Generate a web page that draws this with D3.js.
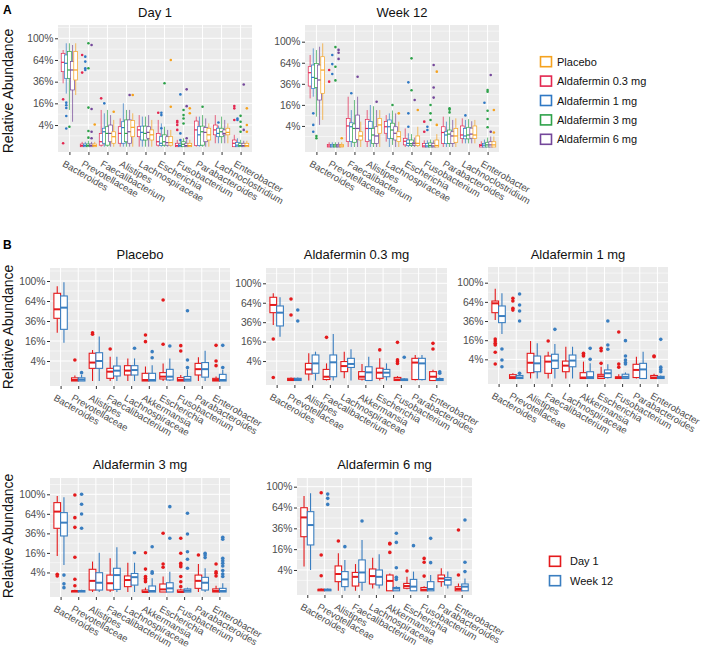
<!DOCTYPE html>
<html><head><meta charset="utf-8">
<script src="https://cdn.jsdelivr.net/npm/d3@7"></script>
<style>body{margin:0;background:#fff}svg{display:block}text{font-family:"Liberation Sans",Arial,sans-serif}</style>
</head><body><svg id="c" width="709" height="652"></svg>
<script>
// ---------------- DATA (relative abundance, %) ----------------
// each entry: [lower whisker, Q1, median, Q3, upper whisker, [outliers]]
const catsA = ["Bacteroides","Prevotellaceae","Faecalibacterium","Alistipes","Lachnospiraceae","Escherichia","Fusobacterium","Parabacteroides","Lachnoclostridium","Enterobacter"];
const catsB = ["Bacteroides","Prevotellaceae","Alistipes","Faecalibacterium","Lachnospiraceae","Akkermansia","Escherichia","Fusobacterium","Parabacteroides","Enterobacter"];
const yTicks = [4,16,36,64,100];
const groupsA = ["Aldafermin 0.3 mg","Aldafermin 1 mg","Aldafermin 3 mg","Aldafermin 6 mg","Placebo"];
const legendA = ["Placebo","Aldafermin 0.3 mg","Aldafermin 1 mg","Aldafermin 3 mg","Aldafermin 6 mg"];
const legendB = ["Day 1","Week 12"];

// Panel A: Day 1
const day1_03 = [[34.2,47.9,60.6,74.2,79.6,[19.1,0.1]],[0,0,0.01,0.06,0.2,[71.6,46.7]],[0,0.02,0.21,1.5,11.5,[19.9]],[0,0.1,1.5,3.4,6.8,[]],[0,0.85,2.4,3.4,8.5,[]],[0,0.02,0.21,1.5,6.1,[9.8]],[0,0,0.01,0.1,0.4,[5.6,5.0,4.0,2.4]],[0,0.01,2.4,5.6,7.7,[]],[0.1,1.2,2.4,4,8.5,[]],[0,0,0.1,0.38,1.2,[14.1,12.5,6.1]]];
const day1_1 = [[24,39.8,59.2,71.6,91,[16.5,14.6,12.7,8,2.8]],[0,0,0.01,0.06,0.2,[69,61.6,52.3,50.1]],[0,0.1,1.9,2.9,9.5,[16]],[0,0.1,3.1,5.3,16,[]],[0,0.38,1.75,3.6,7.7,[]],[0,0.01,0.1,0.85,4.6,[9.8,8.5,2.9]],[0,0,0.01,0.06,0.3,[23.3,1.5,0.38]],[0,0.01,1.2,3.4,7.7,[]],[0.1,0.85,1.5,2.9,3.8,[5]],[0,0,0.02,0.14,0.6,[6.8,6.1]]];
const day1_3 = [[11.5,39.8,50.1,76.9,91,[3.4]],[0,0,0.01,0.06,0.3,[91,52.3,13,2.1,0.7]],[0,0.02,1.5,3.4,11.5,[]],[0,0.21,1.5,6.1,11.5,[]],[0,0.38,1.5,3.6,7.7,[]],[0,0.02,0.21,1.2,3.4,[34.2]],[0,0,0.05,0.21,0.6,[11.5,8.5,6.8,4.6]],[0,0.02,1.9,3.6,8.5,[13.6]],[0.1,0.85,1.9,2.9,7.7,[]],[0,0,0.01,0.1,0.4,[8.1,5.3,3.4,1.9]]];
const day1_6 = [[5.3,27.4,50.1,61.6,88,[]],[0,0,0.01,0.06,0.2,[88,12.1,1.9,0.6]],[0,0.21,1.5,4,8.5,[]],[0,0.1,1.9,6.1,11.5,[22.7]],[0,0.6,1.75,3.4,8.5,[]],[0,0.02,0.14,0.85,2.4,[]],[0,0,0.01,0.1,0.4,[28,14,0.6]],[0,0.21,1.75,3.1,6.8,[]],[0.1,1.2,1.5,2.4,6.1,[]],[0,0,0.01,0.1,0.3,[33,2.4]]];
const day1_pl = [[22.7,37.9,50.1,76.9,91,[]],[0,0,0.01,0.06,0.2,[4.2]],[0,0.1,0.85,1.9,6.1,[10.4]],[0,0.85,3.2,5.8,9.5,[22.7]],[0,0.38,1.2,2.4,6.1,[]],[0,0.02,0.14,0.85,2.4,[64,13.6]],[0,0,0.01,0.1,0.4,[12.5,9.5]],[0,0.38,1.2,2.9,4.6,[]],[0.1,1.2,1.75,2.9,4.6,[]],[0,0,0.01,0.1,0.3,[12.5,4.0,1.9]]];

// Panel A: Week 12
const wk12_03 = [[21.3,33.5,49.8,58.2,76.3,[]],[0,0,0.01,0.06,0.2,[53.4,38.5]],[0,0.26,4,7.4,22.8,[]],[0,0.26,3.1,6.9,12.3,[]],[0.26,1.7,3.7,5.8,9.2,[]],[0,0.04,0.3,0.68,3.1,[]],[0,0,0.01,0.12,0.4,[5.8,2.1]],[0,0.12,1.9,3.7,8.3,[]],[0.12,0.68,1.3,4,7.4,[]],[0,0,0.02,0.06,0.3,[]]];
const wk12_1 = [[22.8,31,43.7,60.6,87.7,[10.2,4.4,2.1]],[0,0,0.01,0.06,0.2,[76.3,62,48]],[0,0.26,3.7,5.3,12.3,[26]],[0,0.44,3.1,5.8,15.9,[]],[0,0.68,3.7,6.6,10.2,[]],[0,0.02,0.12,0.44,1.7,[37.7,10.2,3.7]],[0,0,0.01,0.12,0.4,[3.7,2.6]],[0,0.1,1.3,2.1,5.8,[]],[0.12,0.6,1.1,3.1,6.6,[9]],[0,0,0.03,0.12,0.5,[17.7]]];
const wk12_3 = [[8.3,32,42.5,63.1,84.8,[1.1,0.68]],[0,0,0.01,0.06,0.2,[90,58,40]],[0,0.2,3.1,4.8,19.9,[]],[0,0.12,1.3,3.1,15,[]],[0.04,0.68,2.6,5.1,12,[15.9]],[0,0.02,0.1,0.44,1.5,[70.9,29]],[0,0,0.02,0.15,0.5,[15.9,10.2,6.6]],[0,0.12,1.5,2.6,8.3,[13.5,12.6,10.8]],[0.12,0.6,1.3,3.5,7,[]],[0,0,0.04,0.2,0.8,[29.3,27.6,11.9,7.1,3.5]]];
const wk12_6 = [[4.4,19.9,40.5,60.6,90.7,[]],[0,0,0.01,0.06,0.2,[85,80,70]],[0,0.5,3.1,9.2,22.8,[44.6]],[0,0.12,1.1,3.7,12.3,[18.5]],[0,0.44,1.7,3.7,10.2,[]],[0,0.02,0.1,0.2,0.8,[19.9]],[0,0,0.01,0.12,0.4,[60.6,32,22]],[0,0.12,1.1,2.1,6.6,[]],[0.12,0.7,1.5,3.2,6,[]],[0,0,0.04,0.25,1,[46.7,2.1]]];
const wk12_pl = [[6.6,26,53.4,73.5,96.9,[]],[0,0,0.01,0.06,0.2,[0.7]],[0,0.44,1.1,2.1,5.8,[]],[0,1.7,4.4,7.4,12.3,[]],[0,0.26,0.96,2.1,5.8,[10.2]],[0,0.02,0.12,1.1,3.7,[12.3]],[0,0,0.02,0.44,1.5,[51.2,4.4]],[0,0.2,1.1,3.1,7.4,[]],[0.12,0.68,1.3,4,6.6,[]],[0,0,0.04,0.25,1,[12.3,1.9]]];

// Panel B: by treatment, Day 1 vs Week 12
const pl_d1 = [[23.4,39.3,51.4,76.9,90,[]],[0,0,0.01,0.1,0.3,[4.4]],[0,1.6,3.4,7.7,9.6,[23.3,21.8]],[0,0.07,0.87,1.6,5.9,[10.2]],[0,0.36,1.07,2.35,5.1,[]],[0,0,0.01,0.59,2.1,[21.2,15.5]],[0,0.04,0.19,0.7,3.1,[65.6,13.5]],[0,0,0.01,0.11,0.36,[12.5,9]],[0,0.36,1.4,3.1,5.6,[]],[0,0,0.01,0.07,0.2,[12.7,4,2.35]]];
const pl_w12 = [[14.7,26.7,53.8,72.3,97.4,[]],[0,0,0.02,0.1,0.4,[0.7]],[0,1.6,4,8,19.7,[]],[0,0.25,1.07,2.25,5.9,[]],[0,0.36,1.2,2.35,5.1,[10.7]],[0,0,0.01,0.59,2.5,[8.6,5.4]],[0,0.01,0.19,1.36,5.1,[12.3]],[0,0,0.02,0.2,1.3,[49.4,4.4,1.8]],[0,0.15,1.4,3.4,9.2,[]],[0,0,0.01,0.44,1.2,[12.7,1.8]]];
const d03_d1 = [[32.6,48.7,60.4,73.3,80.5,[18.2,0.1]],[0,0,0.01,0.05,0.1,[70.4,45.4]],[0,0.45,1.3,3.1,7.8,[]],[0,0.01,0.15,1.3,3.1,[19.7]],[0.05,0.83,2.2,3.8,8.8,[]],[0,0.02,0.15,0.83,2.9,[]],[0,0.05,0.65,1.6,5.2,[9.9]],[0,0,0.01,0.1,0.2,[15.4,4.5,3.8,3.1]],[0,0.01,3.4,5.2,6.9,[]],[0,0,0.15,0.83,1.2,[14.6,10.5]]];
const d03_w12 = [[20.3,31.5,48.7,58.8,73.3,[]],[0,0,0.01,0.05,0.1,[52.7,37.5]],[0,0.55,3.1,6.9,8.8,[]],[0,0.15,3.5,6.9,22.9,[]],[0,1.8,2.9,5.2,10.3,[]],[0,0,0.7,2,6,[]],[0,0.15,0.65,1.3,3.1,[]],[0,0,0.01,0.02,0.05,[5.7]],[0,0.01,3.1,5.2,6.9,[]],[0,0,0.01,0.04,0.1,[0.8,0.55]]];
const d1_d1 = [[37.3,47.2,61.6,65.4,87.6,[17,15.3,13.5,12.3,7.5,2.3]],[0,0,0.02,0.16,0.3,[70,65.4,53.7,51]],[0,0.37,2.7,6.9,15.3,[]],[0,0.29,3.1,5.5,7.8,[15.3]],[0,0.5,1.8,3.3,11,[]],[0,0,0.01,0.37,3.1,[6.9,6,5.5]],[0,0,0.05,0.19,1.5,[9.9,8.4,2.5]],[0,0,0.01,0.03,0.2,[23.5,2.3,1.4]],[0,0.01,0.8,2.2,5.2,[]],[0,0,0.01,0.1,0.25,[5.5,5.2]]];
const d1_w12 = [[21.6,34,42.5,57.3,79,[9.5,3.7,1.5]],[0,0,0.01,0.1,0.2,[77.8,58.8,49.6,36,0.29]],[0,0.5,2.5,5.5,13.5,[]],[0,1.1,3.5,6.4,13,[26.3]],[0,1.5,3.5,6,11,[]],[0,0,0.02,0.5,2.5,[9.9,4]],[0,0.01,0.3,0.8,2.2,[36,12.2,9.3]],[0,0,0.03,0.2,0.4,[15.6,5.5,3.7,2.8,2.3]],[0,0,0.9,2.5,7.8,[]],[0,0,0.01,0.05,0.1,[16.7,1.4,0.9,0.5]]];
const d3_d1 = [[13.6,42.5,67.7,83.7,96.6,[3.3,2.7]],[0,0,0.01,0.01,0.05,[98.6,57.9,43.8,12.6,1.7,0.4]],[0,0.04,1.3,5.4,9.7,[]],[0,0.04,0.8,3,11.9,[]],[0,0.3,1.5,2.7,9,[]],[0,0,0,0.04,0.2,[16.2,5.5,2.5,2,1.5,1.1]],[0,0,0.07,0.67,2.5,[36.1,8.2,6.4]],[0,0,0,0.04,0.1,[30.2,15.7,8.6,7.6,6.7,2.5,1.1,0.3]],[0,0.14,1.3,3,8.2,[14.3]],[0,0,0.01,0.1,0.4,[8.2,4.3,3.7,2.7]]];
const d3_w12 = [[7.6,32.9,50.4,66,93.9,[3,0.7,0.2]],[0,0,0.01,0.02,0.05,[100,80.6,63.8,42.5]],[0,0.04,0.9,3.9,16.2,[]],[0,0.07,3,5.9,20.9,[]],[0,0.5,2.3,3.6,9,[16.2]],[0,0,0.01,0.38,2,[21.5,4.3,3.7]],[0,0,0.14,0.9,4.3,[76.3,30.2]],[0,0,0.02,0.1,0.2,[64.9,35.3,17,11.2,5.9]],[0,0.04,0.9,2.25,5.9,[15.7,14.3,12.4]],[0,0,0.01,0.14,0.8,[31.3,29.1,11.9,10.3,8.6,7.1,4.8,3.4,2.5]]];
const d6_d1 = [[5.4,27,49.7,63.7,82.8,[]],[0,0,0.01,0.02,0.05,[88.8,11.8,2.1]],[0,0.77,2.6,5.7,13,[22.9]],[0,0.21,1.8,3.1,6.6,[]],[0.05,0.43,2,4.4,10.1,[]],[0,0,0.9,2.3,2.8,[20.8,20.2,13.6]],[0.02,0.06,0.21,0.5,1.8,[3.6]],[0,0,0.01,0.1,0.2,[9.7,7.5,2]],[0.15,0.77,1.4,2.3,4.7,[]],[0,0,0.03,0.15,0.5,[34.1,2.3]]];
const d6_w12 = [[4,19.4,39.9,57.8,87.6,[]],[0,0,0.01,0.02,0.05,[86.3,78.9,68.9]],[0,0.16,1.2,3.4,8.8,[18]],[0,0.67,3.1,8.8,23.8,[45]],[0.05,0.31,1.8,4,12.3,[]],[0,0,0.05,0.1,0.2,[30.5,21.6,4.9,1.7,1.2]],[0,0,0.16,1.2,3.4,[18.8]],[0,0,0.03,0.77,2.3,[25.4,7.3]],[0.05,0.31,1.1,1.6,3.4,[]],[0,0,0.16,0.43,1.4,[46.2,7.5,3.4]]];

// ---------------- STYLE / LAYOUT ----------------
const colA = {"Placebo":"#F5A21E","Aldafermin 0.3 mg":"#E3264F","Aldafermin 1 mg":"#2F78C4","Aldafermin 3 mg":"#2EA24A","Aldafermin 6 mg":"#74479A"};
const colB = {"Day 1":"#E41A1C","Week 12":"#3A7EC0"};
const FONT = '"Liberation Sans",Arial,sans-serif';

const panels = [
  {title:"Day 1", cats:catsA, series:[day1_03,day1_1,day1_3,day1_6,day1_pl], colors:groupsA.map(g=>colA[g]), x0:58,x1:252,top:25,bot:152,y0:146.7,y100:38.3,ty:17, kind:"A"},
  {title:"Week 12", cats:catsA, series:[wk12_03,wk12_1,wk12_3,wk12_6,wk12_pl], colors:groupsA.map(g=>colA[g]), x0:305,x1:499,top:25,bot:152,y0:147,y100:41.7,ty:17, kind:"A"},
  {title:"Placebo", cats:catsB, series:[pl_d1,pl_w12], colors:legendB.map(g=>colB[g]), x0:50,x1:230,top:268,bot:386,y0:381,y100:281,ty:259, kind:"B"},
  {title:"Aldafermin 0.3 mg", cats:catsB, series:[d03_d1,d03_w12], colors:legendB.map(g=>colB[g]), x0:266,x1:447,top:268,bot:385,y0:380.5,y100:283.3,ty:259, kind:"B"},
  {title:"Aldafermin 1 mg", cats:catsB, series:[d1_d1,d1_w12], colors:legendB.map(g=>colB[g]), x0:488,x1:668,top:267,bot:384,y0:378.5,y100:282.7,ty:259, kind:"B"},
  {title:"Aldafermin 3 mg", cats:catsB, series:[d3_d1,d3_w12], colors:legendB.map(g=>colB[g]), x0:50,x1:230,top:478,bot:597,y0:592,y100:494.3,ty:469, kind:"B"},
  {title:"Aldafermin 6 mg", cats:catsB, series:[d6_d1,d6_w12], colors:legendB.map(g=>colB[g]), x0:297,x1:472,top:478,bot:595,y0:590.8,y100:486.7,ty:469, kind:"B"}
];

const svg = d3.select("#c");

function drawPanel(p){
  const g = svg.append("g");
  const x = d3.scalePoint().domain(p.cats).range([p.x0,p.x1]).padding(0.6);
  const band = x.step();
  const y = d3.scaleSqrt().domain([0,100]).range([p.y0,p.y100]);
  const inR = v => y(v) >= p.top && y(v) <= p.bot;
  g.append("rect").attr("x",p.x0).attr("y",p.top).attr("width",p.x1-p.x0).attr("height",p.bot-p.top).attr("fill","#EBEBEB");
  g.selectAll(null).data([1,9,25,49,81,121].filter(inR)).join("line")
    .attr("x1",p.x0).attr("x2",p.x1).attr("y1",d=>y(d)).attr("y2",d=>y(d)).attr("stroke","#fff").attr("stroke-width",0.5);
  g.selectAll(null).data(yTicks.filter(inR)).join("line")
    .attr("x1",p.x0).attr("x2",p.x1).attr("y1",d=>y(d)).attr("y2",d=>y(d)).attr("stroke","#fff").attr("stroke-width",1);
  g.selectAll(null).data(p.cats).join("line")
    .attr("x1",d=>x(d)).attr("x2",d=>x(d)).attr("y1",p.top).attr("y2",p.bot).attr("stroke","#fff").attr("stroke-width",1);

  const ya = g.append("g").attr("transform",`translate(${p.x0},0)`)
    .call(d3.axisLeft(y).tickValues(yTicks).tickFormat(d=>d+"%").tickSize(3).tickPadding(1.5));
  ya.select(".domain").remove();
  ya.selectAll("line").attr("stroke","#333");
  ya.selectAll("text").attr("fill","#4D4D4D").style("font-size","10.3px").style("font-family",FONT);

  const xa = g.append("g").attr("transform",`translate(0,${p.bot})`)
    .call(d3.axisBottom(x).tickSize(3).tickFormat(""));
  xa.select(".domain").remove();
  xa.selectAll("line").attr("stroke","#333");
  g.selectAll(null).data(p.cats).join("text")
    .attr("transform",d=>`translate(${x(d)-4},${p.bot+7.5}) rotate(30)`)
    .attr("dominant-baseline","hanging").attr("fill","#4D4D4D")
    .style("font-size","9.6px").style("font-family",FONT).text(d=>d);

  g.append("text").attr("x",(p.x0+p.x1)/2).attr("y",p.ty).attr("text-anchor","middle")
    .style("font-size","13px").attr("fill","#111").text(p.title);

  const k = p.series.length;
  const slot = p.kind==="A" ? 0.165*band : 0.38*band;
  const bw = p.kind==="A" ? 0.2*band : 0.38*band;
  const sw = p.kind==="A" ? 0.7 : 1.1;
  const mw = p.kind==="A" ? 1.2 : 2;
  const r = p.kind==="A" ? 1.3 : 1.8;
  p.cats.forEach((c,j)=>{
    p.series.forEach((s,i)=>{
      const d = s[j];
      const col = p.colors[i];
      const cx = x(c) + (i-(k-1)/2)*slot;
      const bg = g.append("g");
      bg.selectAll(null).data(d[5]).join("circle").attr("cx",cx).attr("cy",v=>y(v)).attr("r",r).attr("fill",col);
      bg.append("line").attr("x1",cx).attr("x2",cx).attr("y1",y(d[0])).attr("y2",y(d[1])).attr("stroke",col).attr("stroke-width",sw);
      bg.append("line").attr("x1",cx).attr("x2",cx).attr("y1",y(d[3])).attr("y2",y(d[4])).attr("stroke",col).attr("stroke-width",sw);
      bg.append("rect").attr("x",cx-bw/2).attr("width",bw).attr("y",y(d[3])).attr("height",Math.max(0.3,y(d[1])-y(d[3])))
        .attr("fill","#fff").attr("stroke",col).attr("stroke-width",sw);
      bg.append("line").attr("x1",cx-bw/2).attr("x2",cx+bw/2).attr("y1",y(d[2])).attr("y2",y(d[2])).attr("stroke",col).attr("stroke-width",mw);
    });
  });
}
panels.forEach(drawPanel);

// y-axis titles
[[13,91],[13,327],[13,536]].forEach(([tx,ty])=>{
  svg.append("text").attr("transform",`translate(${tx},${ty}) rotate(-90)`).attr("text-anchor","middle")
    .style("font-size","14px").attr("fill","#111").text("Relative Abundance");
});
// panel letters
svg.append("text").attr("x",3).attr("y",14).style("font-size","12px").style("font-weight","bold").text("A");
svg.append("text").attr("x",3).attr("y",249).style("font-size","12px").style("font-weight","bold").text("B");

// legends
const lgA = svg.append("g");
legendA.forEach((name,i)=>{
  const cy = 61.7 + i*19.4;
  lgA.append("rect").attr("x",540.5).attr("y",cy-5).attr("width",11).attr("height",10).attr("fill","#fff").attr("stroke",colA[name]).attr("stroke-width",1.6);
  lgA.append("text").attr("x",557).attr("y",cy).attr("dominant-baseline","central").style("font-size","11px").attr("fill","#111").text(name);
});
const lgB = svg.append("g");
legendB.forEach((name,i)=>{
  const cy = 561.3 + i*19.4;
  lgB.append("rect").attr("x",549.5).attr("y",cy-5).attr("width",11).attr("height",10).attr("fill","#fff").attr("stroke",colB[name]).attr("stroke-width",1.6);
  lgB.append("text").attr("x",570).attr("y",cy).attr("dominant-baseline","central").style("font-size","11px").attr("fill","#111").text(name);
});
</script></body></html>
